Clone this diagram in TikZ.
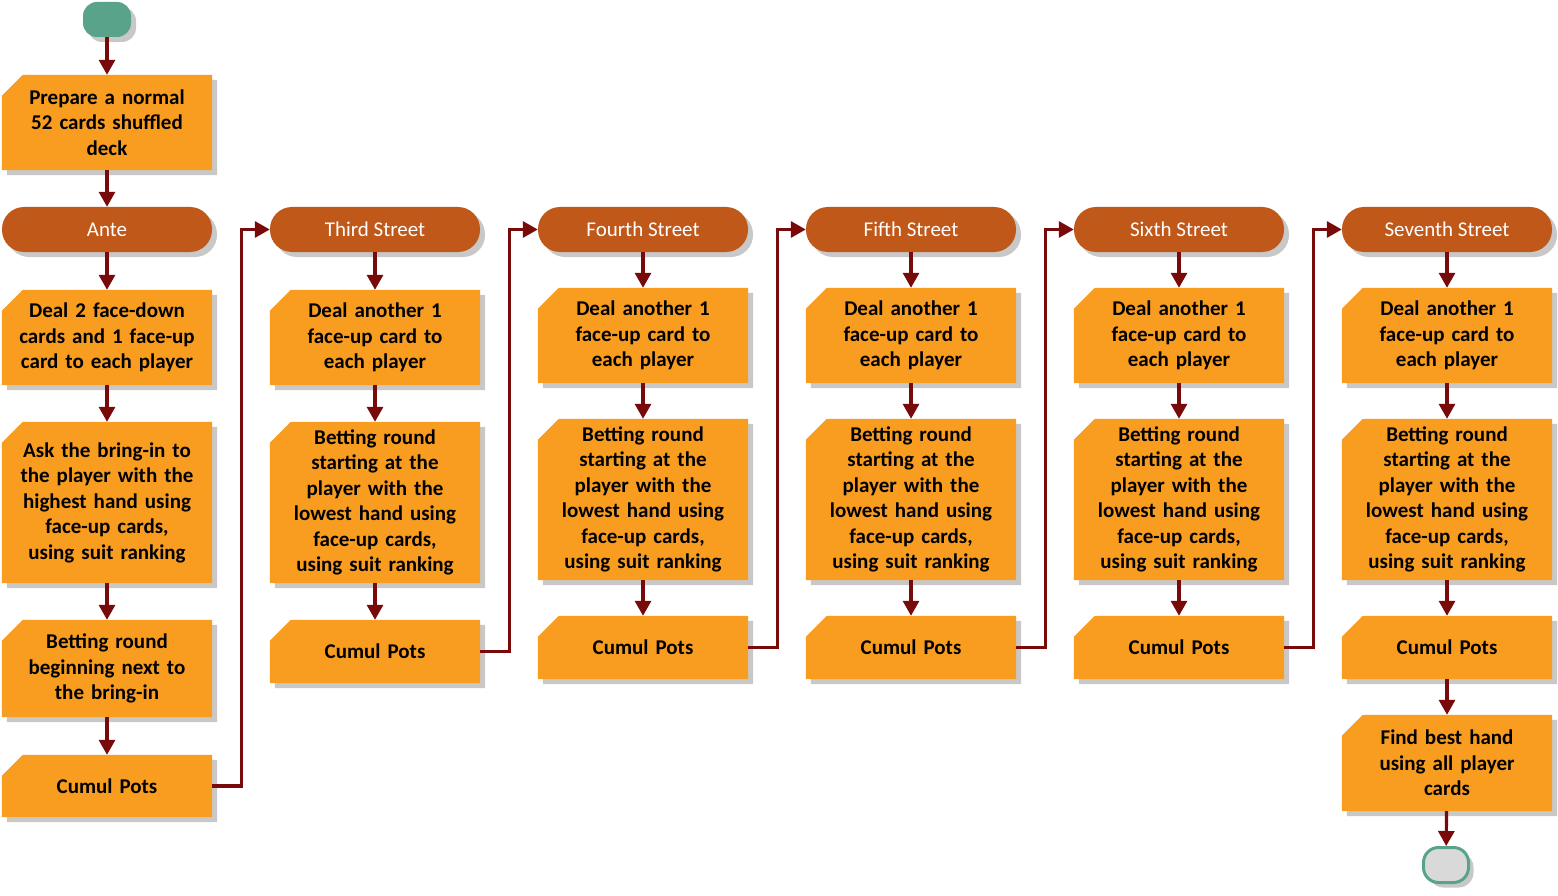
\documentclass[tikz,border=0pt]{standalone}
\usepackage{fontspec}
\setmainfont{Carlito}
\usetikzlibrary{shadows,arrows.meta,calc,backgrounds}
\definecolor{boxorange}{HTML}{F99D21}
\definecolor{pillbrown}{HTML}{C0581A}
\definecolor{termgreen}{HTML}{5AA38B}
\definecolor{flowred}{HTML}{780A0A}
\definecolor{endgray}{HTML}{D9D9D9}
\definecolor{shadowgray}{HTML}{C8C8C8}
\begin{document}
\begin{tikzpicture}[x=1pt,y=-1pt,
  shade/.style={drop shadow={shadow xshift=5pt,shadow yshift=-5pt,fill=shadowgray,opacity=1}},
  card/.style={rectangle, draw=none, minimum width=210pt, text width=200pt, align=center,
    inner sep=0pt, font=\fontsize{21}{25.5}\selectfont\bfseries},
  cardfill/.style={fill=boxorange},
  cardshadow/.style={fill=shadowgray},
  pill/.style={rectangle, rounded corners=22pt, fill=pillbrown, draw=none, shade,
    minimum width=210pt, minimum height=45pt, text=white, font=\fontsize{21}{25.5}\selectfont},
  flow/.style={draw=flowred, line width=3.2pt, -{Triangle[width=16pt,length=15pt]}}]
\useasboundingbox (0,0) rectangle (1558,896);

% column 1
\node[rectangle, rounded corners=14pt, fill=termgreen, shade, minimum width=48pt, minimum height=35pt] (start) at (107,19.5) {};
\node[card, minimum height=95pt] (prep) at (107,122.5) {Prepare a normal\\52 cards shuffled\\deck};
\node[pill] (s1) at (107,229.5) {Ante};
\node[card, minimum height=95pt] (d1) at (107,337.5) {Deal 2 face-down\\cards and 1 face-up\\card to each player};
\node[card, minimum height=161pt] (b1) at (107,502.5) {Ask the bring-in to\\the player with the\\highest hand using\\face-up cards,\\using suit ranking};
\node[card, minimum height=97pt] (e1) at (107,668.5) {Betting round\\beginning next to\\the bring-in};
\node[card, minimum height=62pt] (c1) at (107,786) {Cumul Pots};

% column 2
\node[pill] (s2) at (375,229.5) {Third Street};
\node[card, minimum height=95pt] (d2) at (375,337.5) {Deal another 1\\face-up card to\\each player};
\node[card, minimum height=161pt] (b2) at (375,502.5) {Betting round\\starting at the\\player with the\\lowest hand using\\face-up cards,\\using suit ranking};
\node[card, minimum height=63pt] (c2) at (375,651.5) {Cumul Pots};

% columns 3-6
\foreach \i/\x/\street in {3/643/Fourth Street,4/911/Fifth Street,5/1179/Sixth Street,6/1447/Seventh Street}{
  \node[pill] (s\i) at (\x,229.5) {\street};
  \node[card, minimum height=95pt] (d\i) at (\x,335.5) {Deal another 1\\face-up card to\\each player};
  \node[card, minimum height=161pt] (b\i) at (\x,499.5) {Betting round\\starting at the\\player with the\\lowest hand using\\face-up cards,\\using suit ranking};
  \node[card, minimum height=63pt] (c\i) at (\x,647.5) {Cumul Pots};
}
\node[card, minimum height=96pt] (f6) at (1447,763) {Find best hand\\using all player\\cards};
\node[rectangle, rounded corners=15pt, fill=endgray, draw=termgreen, line width=3pt, shade, minimum width=45pt, minimum height=35pt] (end) at (1446,865) {};

% card backgrounds (cut top-left corner) with shadows
\begin{pgfonlayer}{background}
\foreach \n in {prep,d1,b1,e1,c1,d2,b2,c2,d3,b3,c3,d4,b4,c4,d5,b5,c5,d6,b6,c6,f6}{
  \fill[cardshadow] ($(\n.north west)+(26,5)$) -- ($(\n.north east)+(5,5)$) -- ($(\n.south east)+(5,5)$)
    -- ($(\n.south west)+(5,5)$) -- ($(\n.north west)+(5,26)$) -- cycle;
  \fill[cardfill] ($(\n.north west)+(21,0)$) -- (\n.north east) -- (\n.south east)
    -- (\n.south west) -- ($(\n.north west)+(0,21)$) -- cycle;
}
\end{pgfonlayer}

% connectors
\draw[flow] (start) -- (prep);
\draw[flow] (prep) -- (s1);
\draw[flow] (s1) -- (d1);
\draw[flow] (d1) -- (b1);
\draw[flow] (b1) -- (e1);
\draw[flow] (e1) -- (c1);
\foreach \i in {2,...,6}{
  \draw[flow] (s\i) -- (d\i);
  \draw[flow] (d\i) -- (b\i);
  \draw[flow] (b\i) -- (c\i);
}
\draw[flow] (c1.east) -- ++(29,0) |- (s2.west);
\foreach \i/\j in {2/3,3/4,4/5,5/6}{
  \draw[flow] (c\i.east) -- ++(29,0) |- (s\j.west);
}
\draw[flow] (c6) -- (f6);
\draw[flow] (f6) -- (end);
\end{tikzpicture}
\end{document}
